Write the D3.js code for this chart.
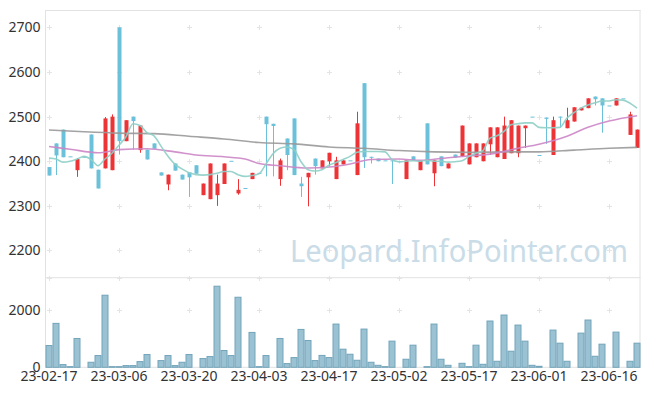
<!DOCTYPE html>
<html lang="en">
  <head>
    <meta charset="utf-8">
    <title>Price and volume</title>
    <script type="text/javascript" src="https://d3js.org/d3.v7.min.js" charset="utf-8"></script>
    <style type="text/css">
      body { margin: 0; background: #fff; }
      .axis text {
        font-family: "Noto Sans", sans-serif;
        font-size: 14px;
        fill: #333;
      }
      .axis path, .axis line { display: none; }
    </style>
  </head>
  <body>
<script type="text/javascript">

// trading days (one slot each)
var dates = ["23-02-17","23-02-20","23-02-21","23-02-22","23-02-23","23-02-24","23-02-27","23-02-28","23-03-02","23-03-03",
  "23-03-06","23-03-07","23-03-08","23-03-09","23-03-10","23-03-13","23-03-14","23-03-15","23-03-16","23-03-17",
  "23-03-20","23-03-21","23-03-22","23-03-23","23-03-24","23-03-27","23-03-28","23-03-29","23-03-30","23-03-31",
  "23-04-03","23-04-04","23-04-05","23-04-06","23-04-07","23-04-10","23-04-11","23-04-12","23-04-13","23-04-14",
  "23-04-17","23-04-18","23-04-19","23-04-20","23-04-21","23-04-24","23-04-25","23-04-26","23-04-27","23-04-28",
  "23-05-02","23-05-03","23-05-04","23-05-08","23-05-09","23-05-10","23-05-11","23-05-12","23-05-15","23-05-16",
  "23-05-17","23-05-18","23-05-19","23-05-22","23-05-23","23-05-24","23-05-25","23-05-26","23-05-30","23-05-31",
  "23-06-01","23-06-02","23-06-05","23-06-07","23-06-08","23-06-09","23-06-12","23-06-13","23-06-14","23-06-15",
  "23-06-16","23-06-19","23-06-20","23-06-21","23-06-22"];

var tickLabels = ["23-02-17","23-03-06","23-03-20","23-04-03","23-04-17","23-05-02","23-05-17","23-06-01","23-06-16"];
var priceTicks = [2200, 2300, 2400, 2500, 2600, 2700];
var volumeTicks = [0, 2000];

var opens = [2387,2440,2471,2411,2380,2410,2460,2381,2384,2380,
  2700,2445,2500,2425,2426,2440,2375,2348,2395,2370,
  2375,2391,2324,2315,2324,2349,2401,2328,2340,2360,
  2374,2500,2484,2360,2451,2496,2350,2364,2406,2384,
  2400,2360,2393,2402,2369,2575,2410,2406,2402,2402,
  2400,2360,2411,2380,2485,2373,2411,2384,2415,2411,
  2393,2409,2400,2438,2409,2405,2418,2418,2474,2500,
  2414,2498,2414,2500,2474,2489,2514,2519,2545,2541,
  2525,2525,2541,2459,2430];
var highs = [2387,2440,2471,2411,2407,2410,2460,2381,2499,2505,
  2700,2492,2500,2481,2426,2440,2375,2370,2395,2370,
  2375,2391,2350,2395,2370,2395,2401,2360,2340,2374,
  2374,2500,2484,2406,2451,2496,2365,2374,2406,2402,
  2419,2410,2402,2402,2511,2575,2410,2406,2402,2402,
  2400,2402,2411,2402,2485,2402,2411,2395,2415,2480,
  2440,2440,2440,2476,2476,2500,2492,2480,2480,2500,
  2414,2498,2500,2500,2520,2521,2520,2541,2545,2541,
  2525,2541,2541,2511,2471];
var lows = [2368,2369,2409,2411,2365,2410,2384,2339,2384,2380,
  2415,2445,2426,2419,2404,2428,2368,2335,2379,2359,
  2320,2372,2324,2315,2300,2349,2401,2325,2340,2360,
  2374,2366,2366,2345,2380,2369,2320,2299,2370,2384,
  2389,2360,2393,2402,2369,2385,2395,2400,2402,2349,
  2400,2360,2402,2380,2393,2344,2389,2384,2408,2411,
  2393,2409,2400,2415,2409,2405,2418,2409,2430,2500,
  2414,2439,2414,2475,2474,2489,2514,2519,2525,2464,
  2525,2525,2541,2459,2430];
var closes = [2368,2413,2409,2411,2405,2410,2384,2339,2496,2500,
  2445,2492,2490,2480,2404,2428,2368,2370,2379,2359,
  2364,2372,2350,2395,2350,2395,2401,2336,2340,2374,
  2374,2483,2479,2402,2414,2369,2344,2374,2389,2402,
  2419,2402,2402,2402,2485,2409,2409,2400,2402,2400,
  2400,2402,2402,2402,2393,2402,2389,2395,2408,2480,
  2440,2440,2440,2476,2476,2480,2492,2480,2480,2500,
  2414,2495,2492,2499,2492,2521,2520,2541,2539,2525,
  2525,2541,2541,2505,2471];

var volumes = [760,1533,94,23,1006,0,176,410,2516,23,
  23,59,59,199,445,0,234,410,59,176,
  445,0,304,374,2831,585,410,2445,0,1217,
  23,410,0,1006,129,339,1322,936,234,415,
  339,1509,632,456,246,1334,176,70,23,913,
  0,281,772,0,23,1509,281,70,0,140,
  23,772,105,1615,211,1825,562,1474,913,70,
  35,0,1299,842,211,0,1193,1650,386,807,
  0,1229,0,211,842];

// short moving average, one value per day
var ma5 = [2407,2405,2398,2400,2405,2411,2404,2390,2405,2418,
  2436,2455,2484,2480,2464,2457,2434,2411,2393,2383,
  2374,2370,2369,2370,2373,2377,2377,2370,2366,2368,
  2372,2394,2417,2429,2432,2426,2399,2381,2378,2381,
  2391,2397,2404,2411,2420,2422,2422,2422,2421,2404,
  2399,2400,2401,2400,2402,2400,2400,2398,2399,2401,
  2411,2418,2424,2452,2457,2467,2482,2484,2486,2486,
  2476,2475,2475,2476,2497,2509,2519,2526,2531,2535,
  2535,2538,2537,2530,2519];

// longer averages, read at a few days
var ma20 = [["23-02-17",2433],["23-02-22",2427],["23-02-28",2419],["23-03-06",2426],["23-03-10",2428],
  ["23-03-16",2421],["23-03-21",2414],["23-03-27",2410],["23-03-30",2405],["23-04-03",2395],
  ["23-04-06",2390],["23-04-12",2385],["23-04-17",2387],["23-04-20",2394],["23-04-25",2404],
  ["23-05-02",2405],["23-05-08",2402],["23-05-12",2408],["23-05-17",2412],["23-05-22",2416],
  ["23-05-26",2429],["23-06-01",2438],["23-06-08",2456],["23-06-13",2476],["23-06-16",2490],
  ["23-06-22",2502]];
var ma60 = [["23-02-17",2470],["23-02-24",2466],["23-03-06",2463],["23-03-13",2462],["23-03-20",2456],
  ["23-03-27",2450],["23-04-03",2442],["23-04-10",2439],["23-04-17",2432],["23-04-24",2429],
  ["23-05-02",2424],["23-05-10",2421],["23-05-17",2420],["23-05-24",2421],["23-06-01",2421],
  ["23-06-09",2425],["23-06-16",2429],["23-06-22",2431]];

var width = 649, height = 396;
var plotLeft = 45.5, plotRight = 640.5, plotTop = 10, split = 277.7, plotBottom = 367.3;

var svg = d3.select("body").append("svg")
    .attr("width", width)
    .attr("height", height);

var x = d3.scaleBand().domain(dates).range([plotLeft, plotRight]).padding(0);
var half = x.bandwidth() / 2;
var cx = d => Math.floor(x(d) + half);

var y = d3.scaleLinear().domain([2139, 2739]).range([split, plotTop]);
var yv = d3.scaleLinear().domain([0, 3127]).range([plotBottom, split]);

// frame
var frame = svg.append("g").attr("stroke", "#e2e2e2").attr("stroke-width", 1);
frame.append("line").attr("x1", plotLeft).attr("x2", plotRight).attr("y1", plotTop + 0.5).attr("y2", plotTop + 0.5);
frame.append("line").attr("x1", plotLeft).attr("x2", plotRight).attr("y1", split).attr("y2", split);
frame.append("line").attr("x1", plotLeft).attr("x2", plotRight).attr("y1", plotBottom).attr("y2", plotBottom);
frame.append("line").attr("x1", plotLeft).attr("x2", plotLeft).attr("y1", plotTop).attr("y2", plotBottom);
frame.append("line").attr("x1", plotRight - 0.5).attr("x2", plotRight - 0.5).attr("y1", plotTop).attr("y2", plotBottom);

// little "+" grid marks
var gridY = priceTicks.map(y).concat([split, yv(2000)]);
var crosses = [];
tickLabels.forEach(function(d) { gridY.forEach(function(gy) { crosses.push([cx(d) + 0.5, Math.round(gy) + 0.5]); }); });
svg.append("g").attr("stroke", "#e4e4e4").attr("stroke-width", 1)
  .selectAll("path").data(crosses).join("path")
    .attr("d", d => `M${d[0] - 2.5},${d[1]}H${d[0] + 2.5}M${d[0]},${d[1] - 2.5}V${d[1] + 2.5}`);

// watermark
svg.append("text")
    .attr("x", 290).attr("y", 262)
    .attr("font-family", "Noto Sans, sans-serif")
    .attr("font-size", 31)
    .attr("textLength", 338)
    .attr("lengthAdjust", "spacingAndGlyphs")
    .attr("fill", "#c9dce7")
    .text("Leopard.InfoPointer.com");

// volume
svg.append("g").selectAll("rect").data(dates).join("rect")
    .attr("x", d => x(d) + 0.5)
    .attr("width", x.bandwidth() - 1)
    .attr("y", (d, i) => yv(volumes[i]))
    .attr("height", (d, i) => yv(0) - yv(volumes[i]))
    .attr("fill", "#9bc2d3")
    .attr("stroke", "#72a4ba")
    .attr("stroke-width", 1)
    .style("display", (d, i) => volumes[i] > 0 ? null : "none");

// candles
var red = "#ee3336", blue = "#6cc1da";
var color = i => closes[i] > opens[i] ? red : blue;
var candles = svg.append("g").selectAll("g").data(dates).join("g");
candles.append("line")
    .attr("x1", d => cx(d) + 0.5).attr("x2", d => cx(d) + 0.5)
    .attr("y1", (d, i) => y(highs[i])).attr("y2", (d, i) => y(lows[i]))
    .attr("stroke", (d, i) => color(i))
    .attr("stroke-width", 1);
candles.append("rect")
    .attr("x", d => cx(d) - 1.5)
    .attr("width", 4)
    .attr("y", (d, i) => y(Math.max(opens[i], closes[i])))
    .attr("height", (d, i) => Math.max(1, Math.abs(y(opens[i]) - y(closes[i]))))
    .attr("fill", (d, i) => color(i));

// moving averages
var line = d3.line().x(d => x(d[0]) + half).y(d => y(d[1])).curve(d3.curveMonotoneX);
svg.append("path").datum(ma60).attr("d", line)
    .attr("fill", "none").attr("stroke", "#999").attr("stroke-width", 1.6).attr("opacity", 0.9);
svg.append("path").datum(ma20).attr("d", line)
    .attr("fill", "none").attr("stroke", "#cc86c6").attr("stroke-width", 1.6).attr("opacity", 0.9);
svg.append("path").datum(dates.map((d, i) => [d, ma5[i]])).attr("d", line)
    .attr("fill", "none").attr("stroke", "#8ecfc6").attr("stroke-width", 1.6).attr("opacity", 0.9);

// axes
svg.append("g").attr("class", "axis")
    .attr("transform", `translate(${plotLeft},0)`)
    .call(d3.axisLeft(y).tickValues(priceTicks).tickSize(0).tickPadding(5).tickFormat(d3.format("d")));
svg.append("g").attr("class", "axis")
    .attr("transform", `translate(${plotLeft},0)`)
    .call(d3.axisLeft(yv).tickValues(volumeTicks).tickSize(0).tickPadding(5).tickFormat(d3.format("d")));
svg.append("g").attr("class", "axis")
    .attr("transform", `translate(0,${plotBottom})`)
    .call(d3.axisBottom(x).tickValues(tickLabels).tickSize(0).tickPadding(4));

    </script>
  </body>
</html>
